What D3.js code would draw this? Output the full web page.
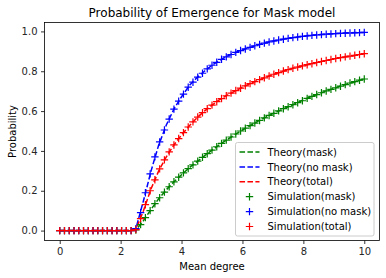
<!DOCTYPE html>
<html>
<head>
<meta charset="utf-8">
<script src="https://cdn.jsdelivr.net/npm/d3@7"></script>
<style>
  body { margin: 0; background: #fff; }
  text { font-family: "DejaVu Sans", sans-serif; }
</style>
</head>
<body>
<script>
// theory curves, sampled every 0.25
var theoryX = [0, 0.25, 0.5, 0.75, 1, 1.25, 1.5, 1.75, 2, 2.25, 2.5, 2.75, 3, 3.25, 3.5, 3.75, 4, 4.25, 4.5, 4.75,
  5, 5.25, 5.5, 5.75, 6, 6.25, 6.5, 6.75, 7, 7.25, 7.5, 7.75, 8, 8.25, 8.5, 8.75, 9, 9.25, 9.5, 9.75, 10];
var theoryMask = [0, 0, 0, 0, 0, 0, 0, 0, 0, 0, 0.003, 0.05, 0.107, 0.16, 0.205, 0.245, 0.28, 0.315, 0.345, 0.375,
  0.404, 0.432, 0.457, 0.482, 0.505, 0.527, 0.548, 0.568, 0.587, 0.605, 0.622, 0.638, 0.656, 0.672, 0.687, 0.701, 0.714, 0.727, 0.739, 0.75, 0.761];
var theoryNoMask = [0, 0, 0, 0, 0, 0, 0, 0, 0, 0, 0.01, 0.15, 0.30, 0.43, 0.53, 0.61, 0.672, 0.727, 0.767, 0.80,
  0.83, 0.855, 0.876, 0.893, 0.907, 0.92, 0.932, 0.942, 0.951, 0.958, 0.965, 0.971, 0.976, 0.98, 0.984, 0.986, 0.989, 0.991, 0.993, 0.994, 0.995];
var theoryTotal = [0, 0, 0, 0, 0, 0, 0, 0, 0, 0, 0.005, 0.10, 0.21, 0.30, 0.37, 0.43, 0.48, 0.525, 0.565, 0.60,
  0.63, 0.657, 0.68, 0.70, 0.72, 0.738, 0.754, 0.769, 0.783, 0.796, 0.808, 0.819, 0.828, 0.837, 0.846, 0.854, 0.862, 0.869, 0.875, 0.882, 0.888];

// simulation points
var simX = [0, 0.156, 0.313, 0.469, 0.625, 0.781, 0.938, 1.094, 1.25, 1.406, 1.563, 1.719, 1.875, 2.031, 2.188, 2.344,
  2.5, 2.656, 2.813, 2.969, 3.125, 3.281, 3.438, 3.594, 3.75, 3.906, 4.063, 4.219, 4.375, 4.531, 4.688, 4.844,
  5, 5.156, 5.313, 5.469, 5.625, 5.781, 5.938, 6.094, 6.25, 6.406, 6.563, 6.719, 6.875, 7.031, 7.188, 7.344,
  7.5, 7.656, 7.813, 7.969, 8.125, 8.281, 8.438, 8.594, 8.75, 8.906, 9.063, 9.219, 9.375, 9.531, 9.688, 9.844, 10];
var simMask = [0, 0, 0, 0, 0, 0, 0, 0, 0, 0, 0, 0, 0, 0, 0, 0,
  0.003, 0.03, 0.065, 0.10, 0.135, 0.165, 0.193, 0.22, 0.245, 0.268, 0.29, 0.311, 0.33, 0.349, 0.368, 0.386,
  0.404, 0.421, 0.438, 0.454, 0.47, 0.485, 0.5, 0.514, 0.527, 0.54, 0.553, 0.566, 0.578, 0.589, 0.601, 0.612,
  0.622, 0.632, 0.642, 0.652, 0.664, 0.674, 0.683, 0.692, 0.701, 0.709, 0.717, 0.725, 0.733, 0.741, 0.748, 0.755, 0.761];
var simNoMask = [0, 0, 0, 0, 0, 0, 0, 0, 0, 0, 0, 0, 0, 0, 0, 0,
  0.01, 0.09, 0.19, 0.285, 0.37, 0.445, 0.505, 0.56, 0.61, 0.65, 0.685, 0.72, 0.745, 0.77, 0.79, 0.812,
  0.83, 0.845, 0.86, 0.872, 0.884, 0.895, 0.904, 0.912, 0.92, 0.928, 0.935, 0.941, 0.947, 0.952, 0.957, 0.961,
  0.965, 0.969, 0.972, 0.975, 0.977, 0.98, 0.982, 0.984, 0.986, 0.987, 0.989, 0.99, 0.991, 0.992, 0.993, 0.994, 0.995];
var simTotal = [0, 0, 0, 0, 0, 0, 0, 0, 0, 0, 0, 0, 0, 0, 0, 0,
  0.005, 0.06, 0.13, 0.20, 0.255, 0.31, 0.355, 0.395, 0.43, 0.462, 0.492, 0.52, 0.546, 0.57, 0.592, 0.612,
  0.63, 0.647, 0.663, 0.677, 0.69, 0.703, 0.715, 0.727, 0.738, 0.748, 0.758, 0.767, 0.776, 0.785, 0.793, 0.801,
  0.808, 0.815, 0.821, 0.827, 0.833, 0.838, 0.844, 0.849, 0.854, 0.859, 0.864, 0.868, 0.872, 0.876, 0.88, 0.884, 0.888];

var xTicks = [0, 2, 4, 6, 8, 10];
var yTicks = [0.0, 0.2, 0.4, 0.6, 0.8, 1.0];

var series = [
  {name: "Theory(mask)", kind: "line", color: "#008000", y: theoryMask},
  {name: "Theory(no mask)", kind: "line", color: "#0000ff", y: theoryNoMask},
  {name: "Theory(total)", kind: "line", color: "#ff0000", y: theoryTotal},
  {name: "Simulation(mask)", kind: "plus", color: "#008000", y: simMask},
  {name: "Simulation(no mask)", kind: "plus", color: "#0000ff", y: simNoMask},
  {name: "Simulation(total)", kind: "plus", color: "#ff0000", y: simTotal}
];

var width = 386, height = 278;
var margin = {top: 22.5, right: 6.5, bottom: 37.5, left: 44.5};
var w = width - margin.left - margin.right,
    h = height - margin.top - margin.bottom;
var arm = 3.7; // half size of the + marker

var svg = d3.select("body").append("svg")
    .attr("width", width)
    .attr("height", height);

var g = svg.append("g")
    .attr("transform", "translate(" + margin.left + "," + margin.top + ")");

// matplotlib style 5% padding
var yMax = d3.max(simNoMask.concat(theoryNoMask));
var x = d3.scaleLinear().domain([-0.5, 10.5]).range([0, w]);
var y = d3.scaleLinear().domain([-0.05 * yMax, 1.05 * yMax]).range([h, 0]);

var line = d3.line()
    .x(function(d) { return x(d[0]); })
    .y(function(d) { return y(d[1]); });

series.forEach(function(s) {
  if (s.kind == "line") {
    g.append("path")
      .datum(d3.zip(theoryX, s.y))
      .attr("d", line)
      .attr("fill", "none")
      .attr("stroke", s.color)
      .attr("stroke-width", 1.5)
      .attr("stroke-dasharray", "5.55,2.4");
  }
});

function plus(px, py) {
  return "M" + (px - arm) + "," + py + "H" + (px + arm) + "M" + px + "," + (py - arm) + "V" + (py + arm);
}

series.forEach(function(s) {
  if (s.kind == "plus") {
    g.selectAll(null)
      .data(d3.zip(simX, s.y))
      .enter().append("path")
      .attr("d", function(d) { return plus(x(d[0]), y(d[1])); })
      .attr("stroke", s.color)
      .attr("stroke-width", 1.2);
  }
});

// axes
var xAxis = g.append("g")
    .attr("transform", "translate(0," + h + ")")
    .call(d3.axisBottom(x).tickValues(xTicks).tickSizeInner(3.5).tickSizeOuter(0).tickPadding(3.5).tickFormat(d3.format("d")));
var yAxis = g.append("g")
    .call(d3.axisLeft(y).tickValues(yTicks).tickSizeInner(3.5).tickSizeOuter(0).tickPadding(3.5).tickFormat(d3.format(".1f")));

[xAxis, yAxis].forEach(function(a) {
  a.select(".domain").remove();
  a.selectAll("line").attr("stroke", "#000").attr("stroke-width", 0.8);
  a.selectAll("text").attr("font-size", 10).attr("fill", "#262626").style("font-family", "DejaVu Sans");
});

g.append("rect")
    .attr("width", w)
    .attr("height", h)
    .attr("fill", "none")
    .attr("stroke", "#000")
    .attr("stroke-width", 0.8);

// labels
svg.append("text")
    .attr("x", margin.left + w / 2)
    .attr("y", 17)
    .attr("text-anchor", "middle")
    .attr("font-size", 12)
    .text("Probability of Emergence for Mask model");

svg.append("text")
    .attr("x", margin.left + w / 2)
    .attr("y", 270)
    .attr("text-anchor", "middle")
    .attr("font-size", 10)
    .text("Mean degree");

svg.append("text")
    .attr("transform", "translate(16," + (margin.top + h / 2) + ") rotate(-90)")
    .attr("text-anchor", "middle")
    .attr("font-size", 10)
    .text("Probability");

// legend
var legend = svg.append("g").attr("transform", "translate(235.5,142.5)");
legend.append("rect")
    .attr("width", 138.5)
    .attr("height", 93.5)
    .attr("rx", 2)
    .attr("fill", "#fff")
    .attr("fill-opacity", 0.8)
    .attr("stroke", "#cccccc")
    .attr("stroke-width", 1);

series.forEach(function(s, i) {
  var cy = 9.5 + i * 14.9;
  if (s.kind == "line") {
    legend.append("line")
      .attr("x1", 4).attr("x2", 24)
      .attr("y1", cy).attr("y2", cy)
      .attr("stroke", s.color)
      .attr("stroke-width", 1.5)
      .attr("stroke-dasharray", "5.55,2.4");
  } else {
    legend.append("path")
      .attr("d", plus(14, cy))
      .attr("stroke", s.color)
      .attr("stroke-width", 1.2);
  }
  legend.append("text")
    .attr("x", 32)
    .attr("y", cy + 3.6)
    .attr("font-size", 10)
    .attr("fill", "#000")
    .text(s.name);
});
</script>
</body>
</html>
